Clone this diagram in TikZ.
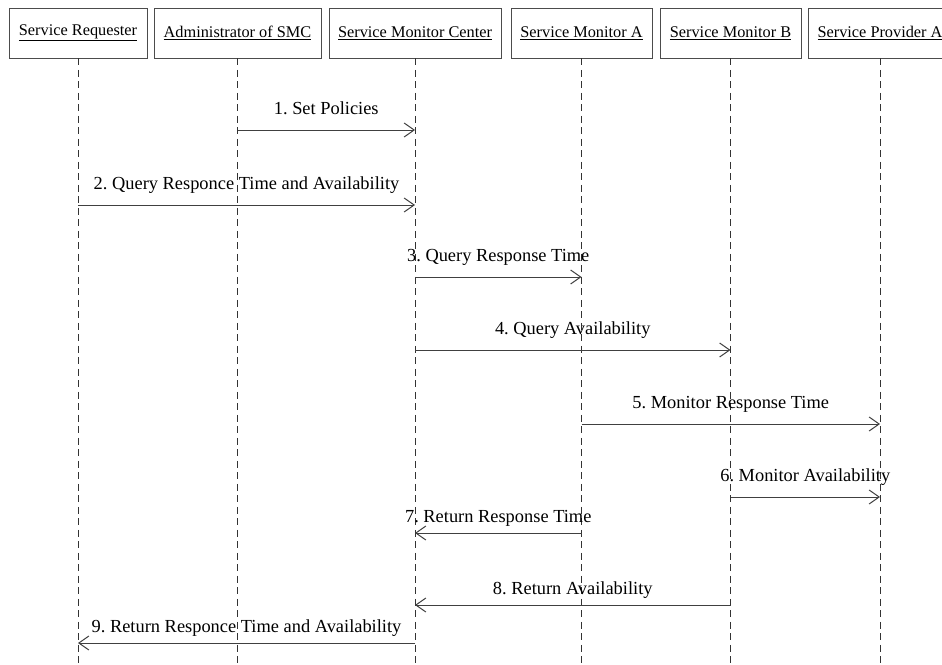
\documentclass[tikz,border=0pt]{standalone}
\usepackage{fontspec}
\setmainfont{Liberation Serif}
\usetikzlibrary{arrows.meta}
\frenchspacing

\tikzset{
  actor/.style={draw=black!70,line width=0.9pt,minimum height=50,inner sep=0pt,
    font=\fontsize{16.3}{19}\selectfont},
  life/.style={draw=black!80,line width=1pt,dash pattern=on 7pt off 4.5pt},
  msg/.style={draw=black!75,line width=1pt,-{Straight Barb[length=10pt,width=14pt,line width=1pt]}},
  fwd/.style={anchor=base,yshift=16pt,font=\fontsize{18.4}{21}\selectfont},
  back/.style={anchor=base,yshift=11pt,font=\fontsize{18.4}{21}\selectfont}
}

\begin{document}
\begin{tikzpicture}[x=1pt,y=-1pt]
  \clip (0,0) rectangle (942,664);
  \fill[white] (0,0) rectangle (942,664);
  \coordinate (bot) at (0,664);

  % participants
  \node[actor,minimum width=138] (sr)  at (78,33)  {\underline{Service Requester}};
  \node[actor,minimum width=167] (adm) at (237.5,33) {\underline{Administrator of SMC}};
  \node[actor,minimum width=172] (smc) at (415,33) {\underline{Service Monitor Center}};
  \node[actor,minimum width=141] (sma) at (581.5,33) {\underline{Service Monitor A}};
  \node[actor,minimum width=141] (smb) at (730.5,33) {\underline{Service Monitor B}};
  \node[actor,minimum width=144] (spa) at (880,33) {\underline{Service Provider A}};

  % lifelines
  \foreach \p in {sr,adm,smc,sma,smb,spa}{
    \draw[life] (\p.south) -- (\p |- bot);
  }

  % messages
  \coordinate (m1) at (0,130);
  \coordinate (m2) at (0,205);
  \coordinate (m3) at (0,277);
  \coordinate (m4) at (0,350);
  \coordinate (m5) at (0,424);
  \coordinate (m6) at (0,497);
  \coordinate (m7) at (0,533);
  \coordinate (m8) at (0,605);
  \coordinate (m9) at (0,643);

  \draw[msg] (adm |- m1) -- node[fwd] {1. Set Policies} (smc |- m1);
  \draw[msg] (sr |- m2) -- node[fwd] {2. Query Responce Time and Availability} (smc |- m2);
  \draw[msg] (smc |- m3) -- node[fwd] {3. Query Response Time} (sma |- m3);
  \draw[msg] (smc |- m4) -- node[fwd] {4. Query Availability} (smb |- m4);
  \draw[msg] (sma |- m5) -- node[fwd] {5. Monitor Response Time} (spa |- m5);
  \draw[msg] (smb |- m6) -- node[fwd] {6. Monitor Availability} (spa |- m6);
  \draw[msg] (sma |- m7) -- node[back] {7. Return Response Time} (smc |- m7);
  \draw[msg] (smb |- m8) -- node[back] {8. Return Availability} (smc |- m8);
  \draw[msg] (smc |- m9) -- node[back] {9. Return Responce Time and Availability} (sr |- m9);
\end{tikzpicture}
\end{document}
